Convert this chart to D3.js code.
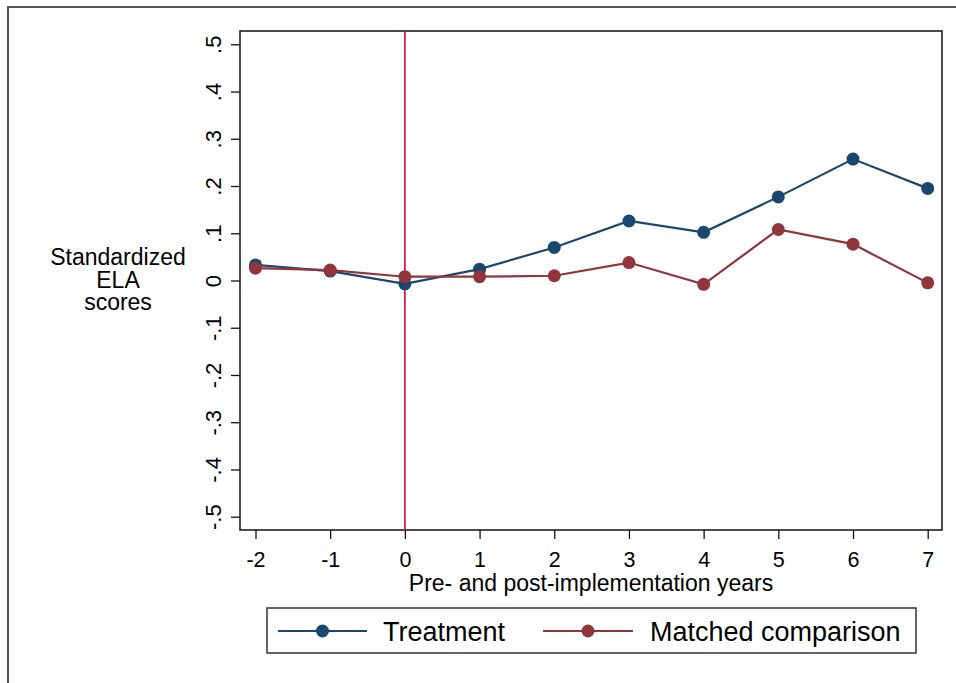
<!DOCTYPE html>
<html>
<head>
<meta charset="utf-8">
<script src="https://cdn.jsdelivr.net/npm/d3@7"></script>
<style>
  body { margin: 0; background: #fff; }
  svg { font-family: Arial, "Liberation Sans", sans-serif; }
</style>
</head>
<body>
<svg id="chart" width="956" height="683"></svg>
<script>
// Data
const years = [-2, -1, 0, 1, 2, 3, 4, 5, 6, 7];
const treatment = [0.033, 0.020, -0.007, 0.024, 0.070, 0.126, 0.102, 0.177, 0.257, 0.195];
const matched = [0.026, 0.022, 0.008, 0.008, 0.010, 0.038, -0.008, 0.108, 0.077, -0.005];
const yTicks = [-0.5, -0.4, -0.3, -0.2, -0.1, 0, 0.1, 0.2, 0.3, 0.4, 0.5];
const seriesNames = ['Treatment', 'Matched comparison'];
const seriesColors = ['#1a476f', '#90353b'];

const svg = d3.select('#chart');

// outer frame
svg.append('rect')
    .attr('x', 8).attr('y', 7)
    .attr('width', 960).attr('height', 700)
    .attr('fill', 'none')
    .attr('stroke', '#555').attr('stroke-width', 2);

const plot = { left: 240, top: 31, right: 942, bottom: 530 };

const x = d3.scaleLinear().domain([-2, 7]).range([255.5, 927.7]);
const y = d3.scaleLinear().domain([-0.5, 0.5]).range([516.7, 44.3]);

// plot region border
svg.append('rect')
    .attr('x', plot.left).attr('y', plot.top)
    .attr('width', plot.right - plot.left)
    .attr('height', plot.bottom - plot.top)
    .attr('fill', 'none')
    .attr('stroke', '#111').attr('stroke-width', 1.5);

// Stata-style labels: ".1", "-.2", plain hyphen for minus
const fmt = v => {
    if (Math.abs(v) < 1e-9) return '0';
    const s = Math.abs(v).toFixed(1).replace(/^0/, '');
    return (v < 0 ? '-' : '') + s;
};

// y axis
const yAxis = svg.append('g')
    .attr('transform', `translate(${plot.left},0)`)
    .call(d3.axisLeft(y).tickValues(yTicks).tickSize(9).tickFormat(fmt));
yAxis.select('.domain').remove();
yAxis.selectAll('.tick line').attr('stroke', '#111').attr('stroke-width', 1.3);
yAxis.selectAll('.tick text')
    .attr('x', 0).attr('y', 0)
    .attr('transform', 'translate(-27,0) rotate(-90)')
    .attr('text-anchor', 'middle')
    .attr('dy', '0.35em')
    .style('font-size', '22px')
    .style('fill', '#000');

// x axis
const xAxis = svg.append('g')
    .attr('transform', `translate(0,${plot.bottom})`)
    .call(d3.axisBottom(x).tickValues(years).tickSize(9).tickFormat(d => d < 0 ? '-' + Math.abs(d) : String(d)));
xAxis.select('.domain').remove();
xAxis.selectAll('.tick line').attr('stroke', '#111').attr('stroke-width', 1.3);
xAxis.selectAll('.tick text')
    .attr('y', 37).attr('dy', 0)
    .style('font-size', '21.5px')
    .style('fill', '#000');

// axis titles
svg.append('text')
    .attr('x', 591).attr('y', 591)
    .attr('text-anchor', 'middle')
    .style('font-size', '23px')
    .text('Pre- and post-implementation years');

const yTitle = svg.append('text')
    .attr('text-anchor', 'middle')
    .style('font-size', '23px');
['Standardized', 'ELA', 'scores'].forEach((t, i) => {
    yTitle.append('tspan')
        .attr('x', 118).attr('y', 265 + i * 22.5)
        .text(t);
});

// reference line at year 0
svg.append('line')
    .attr('x1', x(0)).attr('x2', x(0))
    .attr('y1', plot.top).attr('y2', plot.bottom)
    .attr('stroke', '#cc2147').attr('stroke-width', 1.8);

// series
const line = d3.line().x((d, i) => x(years[i])).y(d => y(d));
[treatment, matched].forEach((vals, k) => {
    const g = svg.append('g');
    g.append('path')
        .datum(vals)
        .attr('d', line)
        .attr('fill', 'none')
        .attr('stroke', seriesColors[k])
        .attr('stroke-width', 2.2);
    g.selectAll('circle')
        .data(vals)
        .join('circle')
        .attr('cx', (d, i) => x(years[i]))
        .attr('cy', d => y(d))
        .attr('r', 6.5)
        .attr('fill', seriesColors[k]);
});

// legend
const legend = svg.append('g');
legend.append('rect')
    .attr('x', 267).attr('y', 608)
    .attr('width', 649).attr('height', 45)
    .attr('fill', '#fff')
    .attr('stroke', '#333').attr('stroke-width', 1.5);
const legendItems = [
    { x0: 278, x1: 367, tx: 383 },
    { x0: 543, x1: 633, tx: 650 }
];
legendItems.forEach((it, k) => {
    legend.append('line')
        .attr('x1', it.x0).attr('x2', it.x1)
        .attr('y1', 631).attr('y2', 631)
        .attr('stroke', seriesColors[k]).attr('stroke-width', 2.2);
    legend.append('circle')
        .attr('cx', (it.x0 + it.x1) / 2).attr('cy', 631)
        .attr('r', 6.5)
        .attr('fill', seriesColors[k]);
    legend.append('text')
        .attr('x', it.tx).attr('y', 641)
        .style('font-size', '27px')
        .text(seriesNames[k]);
});
</script>
</body>
</html>
